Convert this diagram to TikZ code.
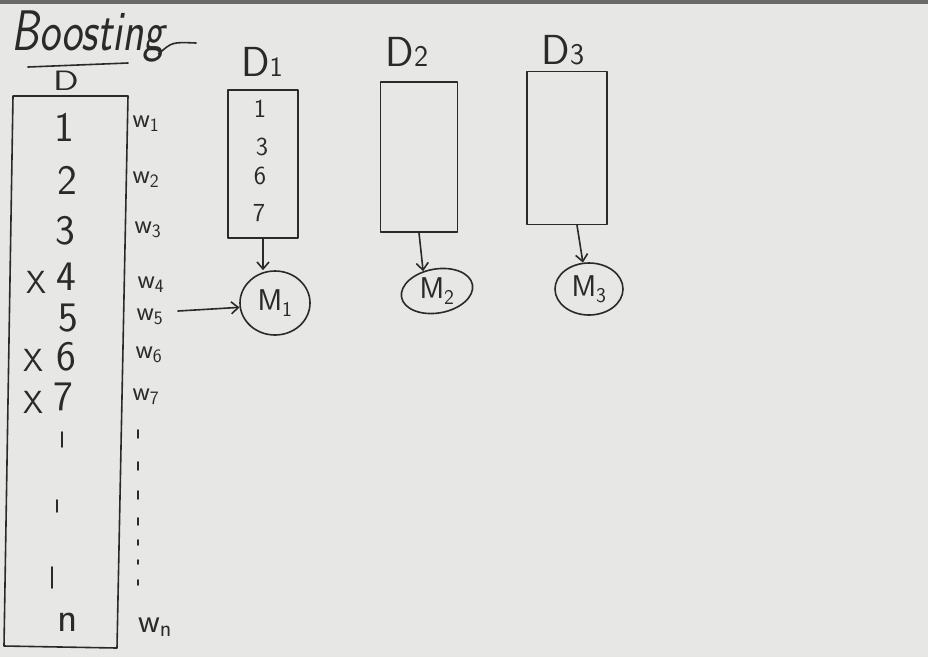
\documentclass[tikz,border=0pt]{standalone}
\usepackage{fontspec}
\usetikzlibrary{shapes.geometric,arrows.meta}
\definecolor{board}{HTML}{E7E7E5}
\definecolor{ink}{HTML}{2A2A2A}
\newcommand\fsz[1]{\fontsize{#1}{#1}\selectfont}
\begin{document}
\begin{tikzpicture}[x=1pt,y=-1pt,
  pen/.style={draw=ink,line width=1.6pt,line cap=round,line join=round},
  arr/.style={pen,-{Straight Barb[length=7pt,width=12pt,line width=1.6pt]}},
  big/.style={font=\sffamily\fsz{42},text=ink,inner sep=0pt},
  cross/.style={font=\sffamily\fsz{32},text=ink,inner sep=0pt},
  wt/.style={font=\sffamily\fsz{27},text=ink,inner sep=0pt},
  small/.style={font=\sffamily\fsz{26},text=ink,inner sep=0pt},
  dlabel/.style={font=\sffamily\fsz{42},text=ink,inner sep=0pt},
  databox/.style={pen,rectangle,inner sep=0pt},
  model/.style={pen,ellipse,inner sep=0pt},
  mtext/.style={font=\sffamily\fsz{30},text=ink,inner sep=0pt}]
\fill[board] (0,0) rectangle (928,657);
\fill[ink!70] (0,0) rectangle (928,4);
\useasboundingbox (0,0) rectangle (928,657);

% title
\node[font=\sffamily\itshape\fsz{44},text=ink,inner sep=0pt,yscale=1.3] (title) at (88,36) {Boosting};
\draw[pen] (title.south east) ++(-6,-8) coordinate (fl) .. controls (172,42) .. (196,43);
\draw[pen] (28,67) -- (128,63);
\node[font=\sffamily\fsz{28},text=ink,inner sep=0pt,xscale=1.35] (dlab) at (66,81) {D};

% big dataset box
\coordinate (dTL) at (13,96);
\coordinate (dTR) at (128,96);
\coordinate (dBR) at (117,648);
\coordinate (dBL) at (4,646);
\draw[pen] (dTL) -- (dTR) -- (dBR) -- (dBL) -- cycle;

\node[big] (r1) at (64,127) {1};
\node[big] (r2) at (67,180) {2};
\node[big] (r3) at (65,231) {3};
\node[cross] (x4) at (36,282) {X};
\node[big] (r4) at (66,277) {4};
\node[big] (r5) at (68,318) {5};
\node[cross] (x6) at (33,360) {X};
\node[big] (r6) at (66,357) {6};
\node[cross] (x7) at (33,402) {X};
\node[big] (r7) at (63,397) {7};
\draw[pen] (62,432) -- (62,447);
\draw[pen] (57,500) -- (57,512);
\draw[pen] (52,567) -- (52,588);
\node[big] (rn) at (68,622) {n};

% weights
\node[wt] (w1) at (146,124) {w\textsubscript{1}};
\node[wt] (w2) at (146,180) {w\textsubscript{2}};
\node[wt] (w3) at (148,230) {w\textsubscript{3}};
\node[wt] (w4) at (151,285) {w\textsubscript{4}};
\node[wt] (w5) at (150,317) {w\textsubscript{5}};
\node[wt] (w6) at (149,355) {w\textsubscript{6}};
\node[wt] (w7) at (146,397) {w\textsubscript{7}};
\foreach \ya/\yb in {430/438, 462/470, 491/499, 518/525, 540/545, 560/564, 580/585}
  \draw[pen] (138,\ya) -- (138,\yb);
\node[font=\sffamily\fsz{34},text=ink,inner sep=0pt] (wn) at (155,627) {w\textsubscript{n}};

% subsets
\node[dlabel] (D1) at (262,62) {D{\fsz{28}1}};
\node[dlabel] (D2) at (407,52) {D{\fsz{30}2}};
\node[dlabel] (D3) at (563,50) {D{\fsz{30}3}};

\node[databox,minimum width=70pt,minimum height=148pt] (b1) at (263,164) {};
\node[databox,minimum width=77pt,minimum height=150pt] (b2) at (419,157) {};
\node[databox,minimum width=80pt,minimum height=153pt] (b3) at (567,148) {};

\node[small] (s1) at (260,109) {1};
\node[small] (s3) at (262,147) {3};
\node[small] (s6) at (260,176) {6};
\node[small] (s7) at (259,213) {7};

% models
\node[model,minimum width=70pt,minimum height=64pt] (m1) at (275,303) {};
\node[mtext] (t1) at (m1.center) {M\textsubscript{1}};
\node[model,minimum width=72pt,minimum height=44pt,rotate=10] (m2) at (437,291) {};
\node[mtext] (t2) at (m2.center) {M\textsubscript{2}};
\node[model,minimum width=68pt,minimum height=52pt] (m3) at (589,289) {};
\node[mtext] (t3) at (m3.center) {M\textsubscript{3}};

% connectors
\draw[arr] (b1.south) -- (m1.north -| b1.south);
\draw[arr] (b2.south) -- (m2.115);
\draw[arr] ([xshift=10pt]b3.south) -- (m3.103);
\coordinate (w5s) at (178,311);
\draw[arr] (w5s) -- (m1.187);
\end{tikzpicture}
\end{document}
